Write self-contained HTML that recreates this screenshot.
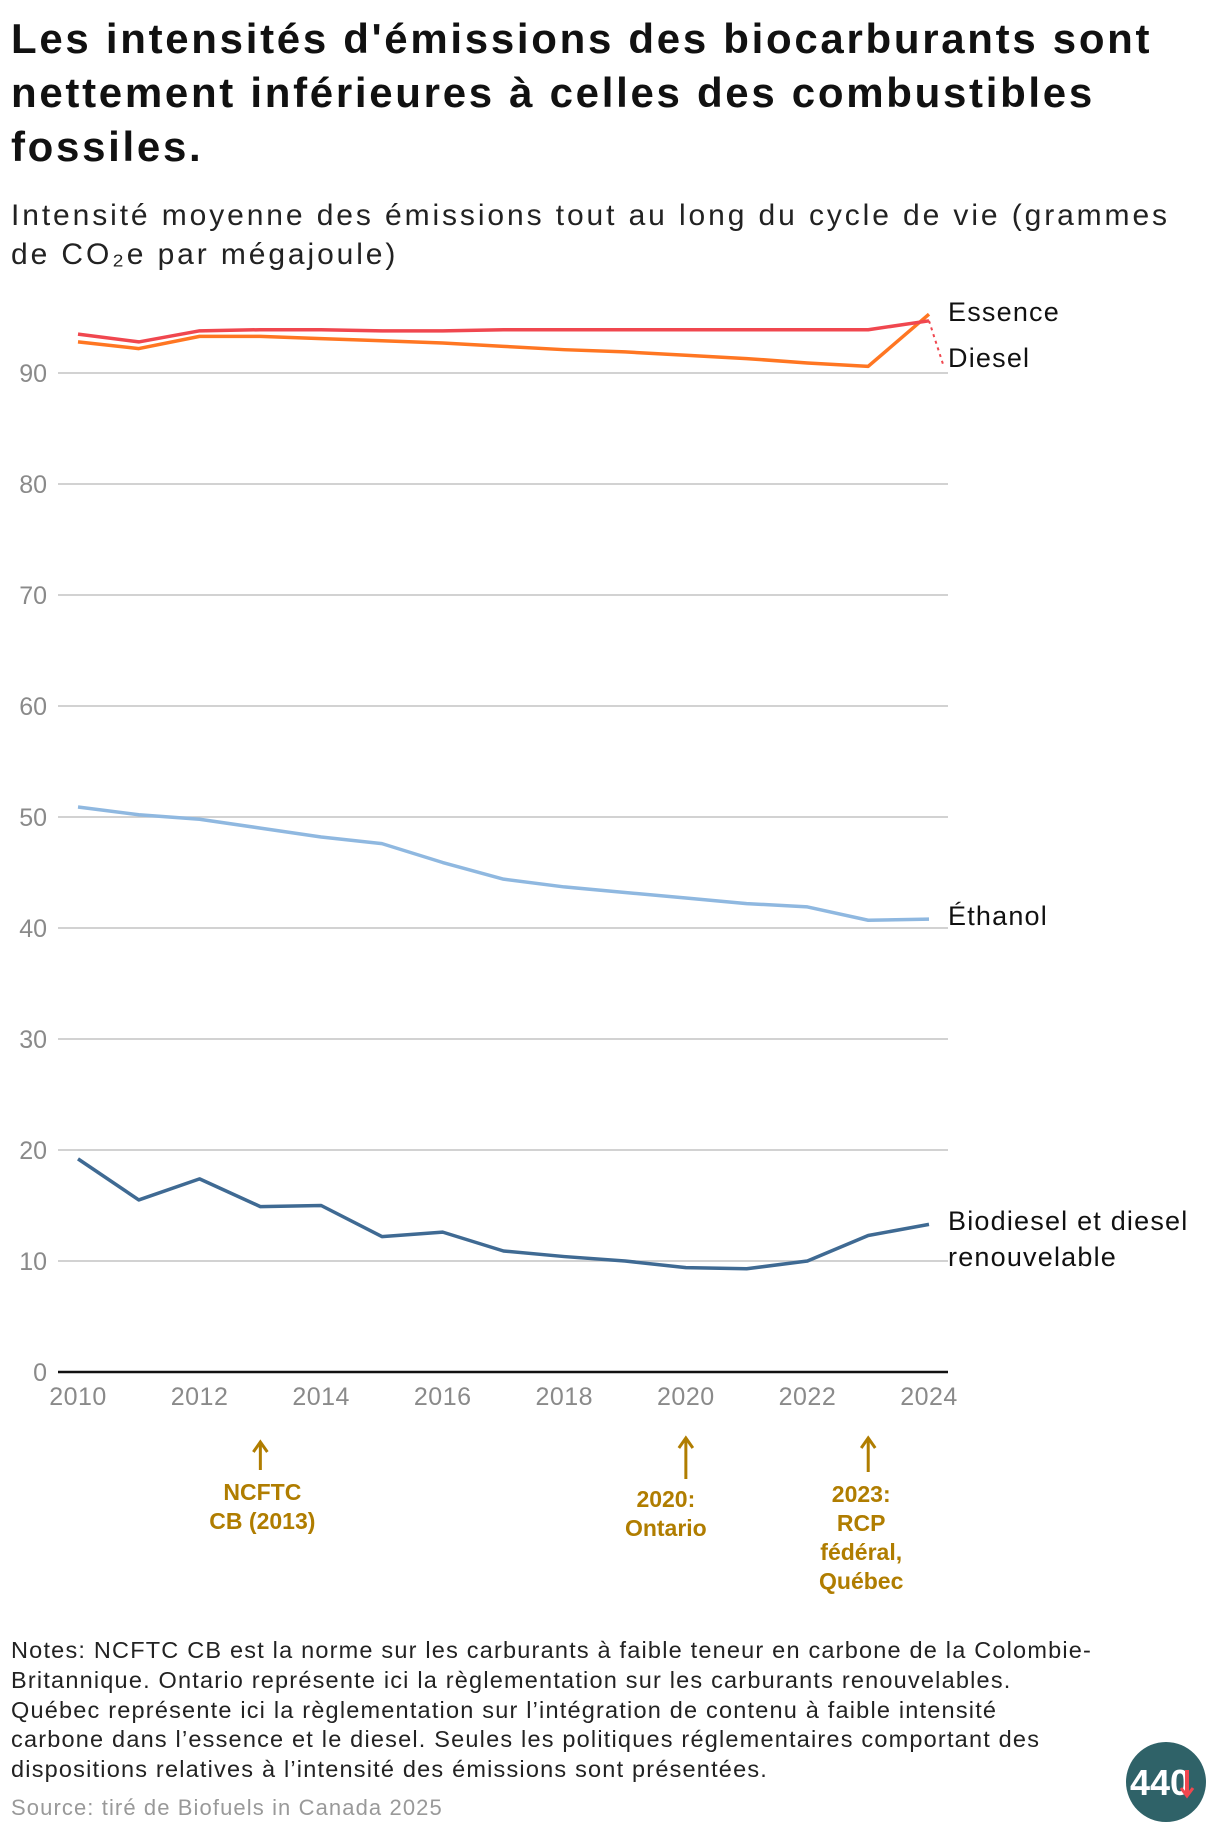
<!DOCTYPE html>
<html><head><meta charset="utf-8"><style>
body{margin:0;background:#fff;width:1220px;height:1838px;overflow:hidden;font-family:"Liberation Sans",sans-serif;position:relative}
#title{position:absolute;left:11px;top:12px;font-size:42px;font-weight:bold;line-height:54px;color:#111;letter-spacing:2.7px}
#sub{position:absolute;left:11px;top:196px;font-size:30px;line-height:39px;color:#222;letter-spacing:2.9px}
#notes{position:absolute;left:11px;top:1636px;font-size:23.5px;line-height:29.8px;color:#222;letter-spacing:1.2px;white-space:nowrap}
#src{position:absolute;left:11px;top:1795px;font-size:22px;color:#999;letter-spacing:1.1px}
svg{position:absolute;left:0;top:0}
</style></head><body>
<div id="title">Les intensités d'émissions des biocarburants sont<br>nettement inférieures à celles des combustibles<br>fossiles.</div>
<div id="sub">Intensité moyenne des émissions tout au long du cycle de vie (grammes<br>de CO₂e par mégajoule)</div>
<svg id="chart" width="1220" height="1838"></svg>
<div id="notes">Notes: NCFTC CB est la norme sur les carburants à faible teneur en carbone de la Colombie-<br>Britannique. Ontario représente ici la règlementation sur les carburants renouvelables.<br>Québec représente ici la règlementation sur l’intégration de contenu à faible intensité<br>carbone dans l’essence et le diesel. Seules les politiques réglementaires comportant des<br>dispositions relatives à l’intensité des émissions sont présentées.</div>
<div id="src">Source: tiré de Biofuels in Canada 2025</div>
<script>
const years=[2010,2011,2012,2013,2014,2015,2016,2017,2018,2019,2020,2021,2022,2023,2024];
const essence=[93.5,92.8,93.8,93.9,93.9,93.8,93.8,93.9,93.9,93.9,93.9,93.9,93.9,93.9,94.7];
const diesel=[92.8,92.2,93.3,93.3,93.1,92.9,92.7,92.4,92.1,91.9,91.6,91.3,90.9,90.6,95.3];
const ethanol=[50.9,50.2,49.8,49.0,48.2,47.6,45.9,44.4,43.7,43.2,42.7,42.2,41.9,40.7,40.8];
const biodiesel=[19.2,15.5,17.4,14.9,15.0,12.2,12.6,10.9,10.4,10.0,9.4,9.3,10.0,12.3,13.3];
const yTicks=[0,10,20,30,40,50,60,70,80,90];
const xTicks=[2010,2012,2014,2016,2018,2020,2022,2024];
const ns="http://www.w3.org/2000/svg",svg=document.getElementById('chart');
const X=v=>78+(v-2010)*(929-78)/14, Y=v=>1372-v*11.1;
function el(t,a,p){const e=document.createElementNS(ns,t);for(const k in a)e.setAttribute(k,a[k]);(p||svg).appendChild(e);return e;}
yTicks.forEach(t=>{
 const l=el('line',{x1:58,x2:948,y1:Y(t),y2:Y(t),stroke:t?'#c4c4c4':'#111','stroke-width':t?1.5:2.5});
 
 
 const tx=el('text',{x:47,y:Y(t)+9,'text-anchor':'end','font-size':25,fill:'#8a8a8a'});tx.textContent=t;
 
 
});
xTicks.forEach(t=>{
 const tx=el('text',{x:X(t),y:1405,'text-anchor':'middle','font-size':25,fill:'#8a8a8a','letter-spacing':0.5});tx.textContent=t;
 
 
});
const series=[[ethanol,'#8fb8e0','ethanol-line'],[biodiesel,'#3f6a93','biodiesel-line'],[diesel,'#ff7622','diesel-line'],[essence,'#f0474f','essence-line']];
series.forEach(([d,c,n])=>{
 const p=el('polyline',{points:d.map((v,i)=>X(years[i])+','+Y(v)).join(' '),fill:'none',stroke:c,'stroke-width':3.5,'stroke-linejoin':'round'});
 
 
});
const ld=el('line',{x1:X(2024),y1:Y(essence[14]),x2:943,y2:Y(90.8),stroke:'#f0474f','stroke-width':2,'stroke-dasharray':'3,4'});


const labels=[['Essence',321],['Diesel',367],['Éthanol',925],['Biodiesel et diesel',1230],['renouvelable',1266]];
labels.forEach(([t,y])=>{
 const tx=el('text',{x:948,y:y,'font-size':27,fill:'#111','letter-spacing':1.2});tx.textContent=t;
 
 
});
const ann=[[2013,['NCFTC','CB (2013)'],1500,1442,1470],[2020,['2020:','Ontario'],1507,1438,1479],[2023,['2023:','RCP','fédéral,','Québec'],1502,1438,1472]];
ann.forEach(([yr,lines,ty,a1,a2],k)=>{
 const x=X(yr),g=el('g',{});
 
 
 el('line',{x1:x,x2:x,y1:a1,y2:a2,stroke:'#b07d00','stroke-width':3},g);
 el('polyline',{points:`${x-7},${a1+10} ${x},${a1} ${x+7},${a1+10}`,fill:'none',stroke:'#b07d00','stroke-width':3},g);
 const cx=k==0?x+2:(k==1?x-20:x-7);
 lines.forEach((s,i)=>{const t=el('text',{x:cx,y:ty+i*29,'text-anchor':'middle','font-size':23,'font-weight':'bold',fill:'#b07d00'},g);t.textContent=s;});
});
const lg=el('g',{});


el('circle',{cx:1166,cy:1782,r:40,fill:'#2f6268'},lg);
const lt=el('text',{x:1160,y:1795,'text-anchor':'middle','font-size':36,'font-weight':'bold',fill:'#fff'},lg);lt.textContent='440';
el('line',{x1:1187,x2:1187,y1:1770,y2:1794,stroke:'#f0474f','stroke-width':4},lg);
el('polyline',{points:'1181,1788 1187,1796 1193,1788',fill:'none',stroke:'#f0474f','stroke-width':3},lg);
</script>
</body></html>
